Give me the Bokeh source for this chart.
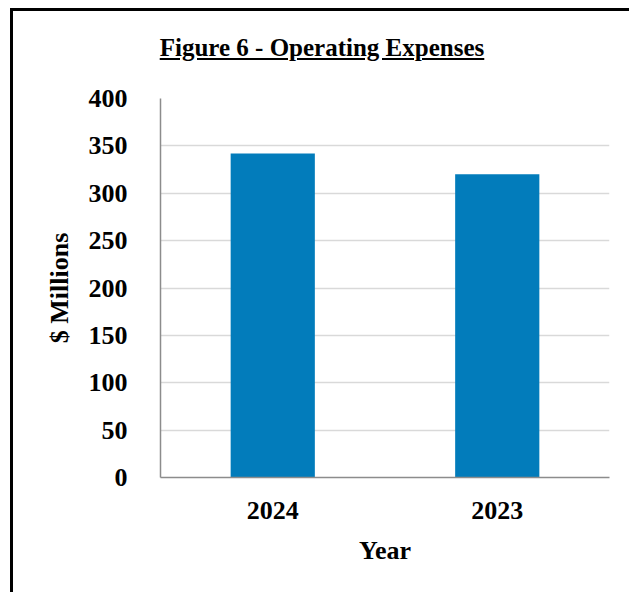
from bokeh.plotting import figure
from bokeh.models import ColumnDataSource, Div, FactorRange, Range1d
from bokeh.layouts import column
from bokeh.embed import file_html
from bokeh.resources import INLINE

# Data
years = ["2024", "2023"]
expenses = [342, 320]
y_ticks = [0, 50, 100, 150, 200, 250, 300, 350, 400]
title_text = "Figure 6 - Operating Expenses"
x_label = "Year"
y_label = "$ Millions"

FONT = "Liberation Serif"
BAR_COLOR = "#027cbb"

source = ColumnDataSource(dict(year=years, value=expenses))

p = figure(
    x_range=FactorRange(*years, range_padding=0),
    y_range=Range1d(0, 400),
    width=616, height=511,
    output_backend="svg", toolbar_location=None,
    min_border_top=17, min_border_bottom=115,
    min_border_left=147, min_border_right=20,
)
p.vbar(x="year", top="value", width=0.375, source=source,
       fill_color=BAR_COLOR, line_color=None)

p.outline_line_color = None
p.xgrid.grid_line_color = None
p.ygrid.grid_line_color = "#d9d9d9"
p.ygrid.grid_line_width = 1.5
p.yaxis.ticker = y_ticks

for ax in (p.xaxis[0], p.yaxis[0]):
    ax.axis_line_color = "#8c8c8c"
    ax.axis_line_width = 1.5
    ax.major_tick_line_color = None
    ax.minor_tick_line_color = None
    ax.major_label_text_font = FONT
    ax.major_label_text_font_style = "bold"
    ax.major_label_text_font_size = "26px"
    ax.major_label_text_color = "#000000"
    ax.axis_label_text_font = FONT
    ax.axis_label_text_font_style = "bold"
    ax.axis_label_text_font_size = "26px"
    ax.axis_label_text_color = "#000000"

p.yaxis.axis_label = y_label
p.yaxis.major_label_standoff = 27
p.yaxis.axis_label_standoff = 12
p.xaxis.axis_label = x_label
p.xaxis.major_label_standoff = 18
p.xaxis.axis_label_standoff = 14

title = Div(
    text=f"<u>{title_text}</u>",
    width=616, height=60,
    styles={
        "font-family": "'Liberation Serif', serif",
        "font-weight": "bold",
        "font-size": "25px",
        "line-height": "30px",
        "text-align": "center",
        "padding-top": "17px",
        "padding-right": "8px",
        "color": "#000000",
        "box-sizing": "border-box",
    },
)

layout = column(
    title, p,
    margin=(8, 0, 0, 10),
    spacing=0,
    styles={"border-left": "3px solid black", "border-top": "3px solid black"},
)

open("out.html", "w").write(file_html(layout, INLINE))
